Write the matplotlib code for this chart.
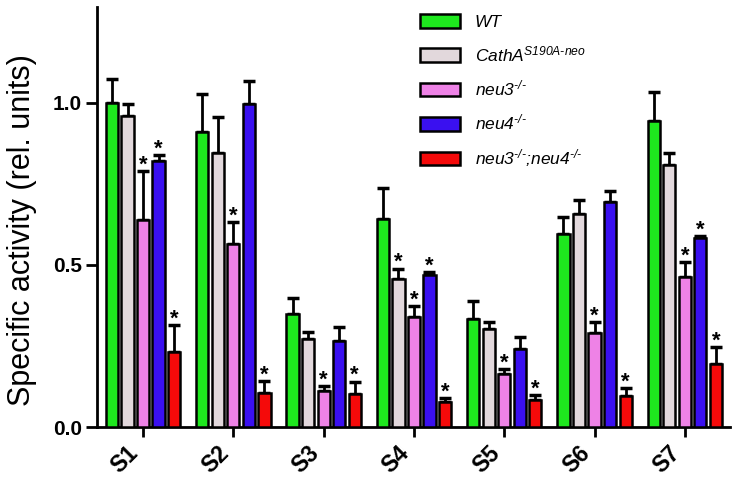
import numpy as np
import matplotlib.pyplot as plt

plt.rcParams['font.family'] = 'Liberation Sans'
plt.rcParams['mathtext.fontset'] = 'custom'
plt.rcParams['mathtext.rm'] = 'Liberation Sans:italic'
plt.rcParams['mathtext.it'] = 'Liberation Sans:italic'

samples = ['S1', 'S2', 'S3', 'S4', 'S5', 'S6', 'S7']
genotypes = ['WT', r'CathA$^{S190A\text{‐}neo}$', r'neu3$^{‐/‐}$', r'neu4$^{‐/‐}$',
             r'neu3$^{‐/‐}$;neu4$^{‐/‐}$']
colors = ['#1ee81e', '#e2d8dc', '#ee82e6', '#3a10f0', '#f50a0a']

# mean values per genotype and sample
wt = [1.00, 0.911, 0.349, 0.641, 0.332, 0.596, 0.944]
catha = [0.960, 0.845, 0.272, 0.456, 0.303, 0.656, 0.808]
neu3 = [0.639, 0.566, 0.111, 0.340, 0.164, 0.289, 0.464]
neu4 = [0.821, 0.998, 0.265, 0.469, 0.241, 0.694, 0.583]
dko = [0.231, 0.106, 0.101, 0.076, 0.082, 0.095, 0.194]

# upper error bars
wt_err = [0.074, 0.116, 0.050, 0.096, 0.058, 0.053, 0.090]
catha_err = [0.037, 0.113, 0.022, 0.033, 0.022, 0.043, 0.039]
neu3_err = [0.151, 0.066, 0.016, 0.033, 0.014, 0.035, 0.046]
neu4_err = [0.019, 0.069, 0.044, 0.010, 0.038, 0.034, 0.007]
dko_err = [0.084, 0.036, 0.039, 0.012, 0.017, 0.024, 0.053]

# significance stars (1 = star)
wt_sig = [0, 0, 0, 0, 0, 0, 0]
catha_sig = [0, 0, 0, 1, 0, 0, 0]
neu3_sig = [1, 1, 1, 1, 1, 1, 1]
neu4_sig = [1, 0, 0, 1, 0, 0, 1]
dko_sig = [1, 1, 1, 1, 1, 1, 1]

means = [wt, catha, neu3, neu4, dko]
errs = [wt_err, catha_err, neu3_err, neu4_err, dko_err]
sigs = [wt_sig, catha_sig, neu3_sig, neu4_sig, dko_sig]

fig = plt.figure(figsize=(7.37, 4.82), dpi=100)
ax = fig.add_axes([0.1316, 0.1141, 0.8589, 0.8714])

x = np.arange(len(samples))
step = 0.172
width = 0.135
for i in range(5):
    xs = x + (i - 2) * step
    ax.bar(xs, means[i], width, color=colors[i], edgecolor='black', linewidth=1.8,
           label=genotypes[i], zorder=3)
    ax.errorbar(xs, means[i], yerr=[np.zeros(len(x)), errs[i]], fmt='none',
                ecolor='black', elinewidth=2, capsize=4, capthick=2.5, zorder=2)
    for j in range(len(x)):
        if sigs[i][j]:
            ax.text(xs[j], means[i][j] + errs[i][j] - 0.014, '*', ha='center', va='bottom',
                    fontsize=16, fontweight='bold')

ax.set_xlim(-0.51, 6.5)
ax.set_ylim(0, 1.296)
ax.set_yticks([0, 0.5, 1.0])
ax.set_yticklabels(['0.0', '0.5', '1.0'], fontsize=15, fontweight='bold')
ax.set_xticks(x)
ax.set_xticklabels(samples, rotation=45, fontsize=16.5, fontweight='bold',
                   ha='right', va='top')
ax.set_ylabel('Specific activity (rel. units)', fontsize=22)
ax.yaxis.set_label_coords(-0.095, 0.47)

for s in ['top', 'right']:
    ax.spines[s].set_visible(False)
for s in ['left', 'bottom']:
    ax.spines[s].set_linewidth(2)
ax.tick_params(axis='y', width=2, length=8, direction='out', pad=3)
ax.tick_params(axis='x', width=2, length=7, direction='out')

leg = ax.legend(loc='upper left', bbox_to_anchor=(420 / 737, 1 - 14 / 482),
                bbox_transform=fig.transFigure, frameon=False, fontsize=12.5,
                handlelength=2.3, handleheight=0.85, labelspacing=0.83,
                handletextpad=0.85, borderpad=0, borderaxespad=0)
for t in leg.get_texts():
    t.set_fontstyle('italic')

fig.savefig('out.png', dpi=100)
